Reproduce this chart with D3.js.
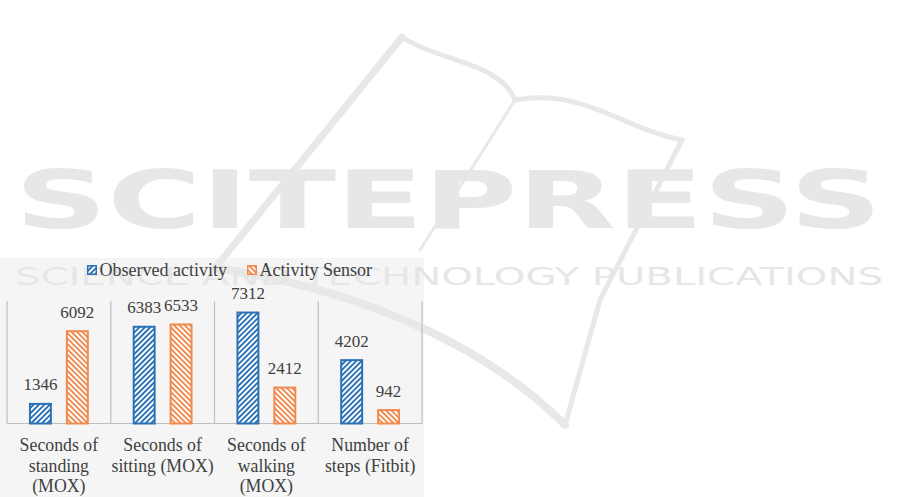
<!DOCTYPE html>
<html><head><meta charset="utf-8">
<script src="https://cdn.jsdelivr.net/npm/d3@7/dist/d3.min.js"></script>
<style>
body{margin:0;background:#fff}svg{display:block}
.serif{font-family:"Liberation Serif","Tinos","Times New Roman","DejaVu Serif",serif;}
.wm{font-family:"DejaVu Sans",sans-serif;}
</style>
</head><body>
<svg id="c" width="901" height="497"></svg>
<script>
const categories = ["Seconds of standing (MOX)", "Seconds of sitting (MOX)", "Seconds of walking (MOX)", "Number of steps (Fitbit)"];
const categoryLines = [["Seconds of", "standing", "(MOX)"], ["Seconds of", "sitting (MOX)"], ["Seconds of", "walking", "(MOX)"], ["Number of", "steps (Fitbit)"]];
const seriesNames = ["Observed activity", "Activity Sensor"];
const observed = [1346, 6383, 7312, 4202];
const sensor = [6092, 6533, 2412, 942];
const watermarkTitle = "SCITEPRESS";
const watermarkSub = "SCIENCE AND TECHNOLOGY PUBLICATIONS";

const colors = {"Observed activity": "#2a72b5", "Activity Sensor": "#f08a4e"};
const rows = categories.map((c, i) => ({cat: c, lines: categoryLines[i], values: [
  {s: seriesNames[0], v: observed[i]}, {s: seriesNames[1], v: sensor[i]}]}));

const svg = d3.select("#c");
const txt = "#404040";

// patterns
const defs = svg.append("defs");
function hatch(id, color, angle) {
  const p = defs.append("pattern").attr("id", id).attr("patternUnits", "userSpaceOnUse")
    .attr("width", 3.8).attr("height", 3.8).attr("patternTransform", `rotate(${angle})`);
  p.append("rect").attr("width", 3.8).attr("height", 3.8).attr("fill", "#fff");
  p.append("rect").attr("width", 1.9).attr("height", 3.8).attr("fill", color);
}
hatch("hb", colors[seriesNames[0]], 45);
hatch("ho", colors[seriesNames[1]], -45);
const patt = {"Observed activity": "url(#hb)", "Activity Sensor": "url(#ho)"};

// chart background
svg.append("rect").attr("x", 0).attr("y", 258).attr("width", 424).attr("height", 239).attr("fill", "#f5f5f5");

// watermark
const wm = svg.append("g").attr("fill", "none").attr("stroke", "#e8e8e8").attr("stroke-linecap", "round");
wm.append("path").attr("d", "M402,37 L215,268").attr("stroke-width", 7);
wm.append("path").attr("d", "M402,37 C440,62 500,62 515,100").attr("stroke-width", 5);
wm.append("path").attr("d", "M515,100 C585,88 620,128 682,140 L600,300 L565,425").attr("stroke-width", 5);
wm.append("path").attr("d", "M515,100 L420,250").attr("stroke-width", 3);
wm.append("path").attr("d", "M215,268 C330,285 470,330 565,425").attr("stroke-width", 8);
svg.append("text").attr("class", "wm").attr("x", 15).attr("y", 228).attr("textLength", 867).attr("lengthAdjust", "spacingAndGlyphs")
  .attr("font-weight", "bold").attr("font-size", 80)
  .attr("fill", "#e7e7e7").text(watermarkTitle);
svg.append("text").attr("class", "wm").attr("x", 15).attr("y", 285).attr("textLength", 868).attr("lengthAdjust", "spacingAndGlyphs")
  .attr("font-size", 25)
  .attr("fill", "#e6e6e6").text(watermarkSub);

// scales
const x0 = d3.scaleBand().domain(categories).range([7, 422]).paddingInner(0).paddingOuter(0);
const x1 = d3.scaleBand().domain(seriesNames).range([0, x0.bandwidth()]).paddingInner(0.378).paddingOuter(0.595);
const y = d3.scaleLinear().domain([0, 8000]).range([423.5, 301]);

// separators
const grid = svg.append("g").attr("stroke", "#bfbfbf").attr("stroke-width", 1.2);
const bounds = categories.map(c => x0(c)).concat([x0.range()[1]]);
grid.selectAll("line.v").data(bounds).join("line").attr("class", "v")
  .attr("x1", d => d).attr("x2", d => d).attr("y1", y(8000)).attr("y2", y(0));
grid.append("line").attr("x1", x0.range()[0]).attr("x2", x0.range()[1]).attr("y1", y(0)).attr("y2", y(0));

// bars
const g = svg.selectAll("g.cat").data(rows).join("g").attr("class", "cat")
  .attr("transform", d => `translate(${x0(d.cat)},0)`);
g.selectAll("rect").data(d => d.values).join("rect")
  .attr("x", d => x1(d.s) + 1).attr("width", x1.bandwidth() - 2)
  .attr("y", d => y(d.v) + 1).attr("height", d => y(0) - y(d.v) - 1)
  .attr("fill", d => patt[d.s]).attr("stroke", d => colors[d.s]).attr("stroke-width", 2);
g.selectAll("text.val").data(d => d.values).join("text").attr("class", "val serif")
  .attr("x", d => x1(d.s) + x1.bandwidth() / 2).attr("y", d => y(d.v) - 12.5)
  .attr("text-anchor", "middle").attr("font-size", 17).attr("fill", txt)
  .text(d => d.v);

// category labels
g.each(function(d) {
  const t = d3.select(this).append("text").attr("class", "serif").attr("text-anchor", "middle")
    .attr("font-size", 17.8).attr("fill", txt);
  d.lines.forEach((ln, i) => {
    t.append("tspan").attr("x", x0.bandwidth() / 2).attr("y", 451 + i * 20.5).text(ln);
  });
});

// legend
const legX = [87, 247];
const lg = svg.selectAll("g.leg").data(seriesNames).join("g").attr("class", "leg")
  .attr("transform", (d, i) => `translate(${legX[i]},265)`);
lg.append("rect").attr("x", 0.75).attr("y", 0.75).attr("width", 8.5).attr("height", 8.5)
  .attr("fill", d => patt[d]).attr("stroke", d => colors[d]).attr("stroke-width", 1.5);
lg.append("text").attr("class", "serif").attr("x", 12.5).attr("y", 11).attr("font-size", 18)
  .attr("fill", txt).text(d => d);
</script>
</body></html>
